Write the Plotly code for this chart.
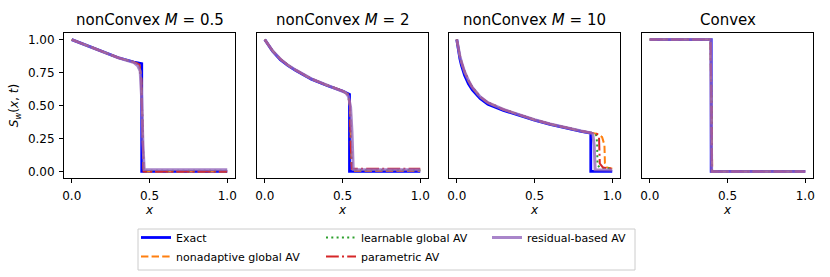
import plotly.graph_objects as go

W, H = 830, 277

# ---------------- data ----------------
titles = ["nonConvex <i>M</i> = 0.5", "nonConvex <i>M</i> = 2", "nonConvex <i>M</i> = 10", "Convex"]
series_names = ["Exact", "nonadaptive global AV", "learnable global AV", "parametric AV", "residual-based AV"]

# Panel 1: nonConvex M = 0.5
p1_exact_x = [0, 0.1, 0.2, 0.3, 0.4, 0.45, 0.45, 1.0]
p1_exact_y = [1.0, 0.953, 0.91, 0.862, 0.83, 0.818, 0.0, 0.0]
p1_nonad_x = [0, 0.1, 0.2, 0.3, 0.4, 0.435, 0.447, 0.455, 0.462, 1.0]
p1_nonad_y = [1.0, 0.953, 0.91, 0.862, 0.828, 0.81, 0.7, 0.3, 0.0, 0.0]
p1_learn_x = [0, 0.1, 0.2, 0.3, 0.4, 0.435, 0.447, 0.455, 0.462, 1.0]
p1_learn_y = [1.0, 0.953, 0.91, 0.862, 0.828, 0.81, 0.7, 0.3, 0.005, 0.005]
p1_param_x = [0, 0.1, 0.2, 0.3, 0.4, 0.435, 0.447, 0.455, 0.462, 1.0]
p1_param_y = [1.0, 0.953, 0.91, 0.862, 0.828, 0.81, 0.7, 0.3, 0.0, 0.0]
p1_resid_x = [0, 0.1, 0.2, 0.3, 0.4, 0.425, 0.44, 0.45, 0.458, 0.466, 1.0]
p1_resid_y = [1.0, 0.953, 0.91, 0.862, 0.826, 0.80, 0.76, 0.55, 0.2, 0.014, 0.012]

# Panel 2: nonConvex M = 2
p2_exact_x = [0, 0.05, 0.1, 0.15, 0.2, 0.3, 0.4, 0.5, 0.545, 0.545, 1.0]
p2_exact_y = [1.0, 0.912, 0.848, 0.802, 0.765, 0.70, 0.652, 0.61, 0.585, 0.0, 0.0]
p2_nonad_x = [0, 0.05, 0.1, 0.15, 0.2, 0.3, 0.4, 0.5, 0.535, 0.548, 0.555, 0.562, 1.0]
p2_nonad_y = [1.0, 0.915, 0.852, 0.805, 0.768, 0.702, 0.654, 0.611, 0.585, 0.5, 0.2, 0.005, 0.005]
p2_learn_x = [0, 0.05, 0.1, 0.15, 0.2, 0.3, 0.4, 0.5, 0.535, 0.548, 0.555, 0.562, 1.0]
p2_learn_y = [1.0, 0.915, 0.852, 0.805, 0.768, 0.702, 0.654, 0.611, 0.585, 0.5, 0.2, 0.01, 0.01]
p2_param_x = [0, 0.05, 0.1, 0.15, 0.2, 0.3, 0.4, 0.5, 0.535, 0.548, 0.553, 0.56, 1.0]
p2_param_y = [1.0, 0.915, 0.852, 0.805, 0.768, 0.702, 0.654, 0.611, 0.585, 0.52, 0.2, 0.02, 0.02]
p2_resid_x = [0, 0.05, 0.1, 0.15, 0.2, 0.3, 0.4, 0.5, 0.52, 0.538, 0.552, 0.561, 0.569, 1.0]
p2_resid_y = [1.0, 0.915, 0.852, 0.805, 0.768, 0.702, 0.654, 0.611, 0.598, 0.57, 0.49, 0.3, 0.015, 0.012]

# Panel 3: nonConvex M = 10
p3_exact_x = [0, 0.01, 0.02, 0.03, 0.05, 0.075, 0.1, 0.15, 0.2, 0.3, 0.4, 0.5, 0.6, 0.7, 0.8, 0.862, 0.862, 1.0]
p3_exact_y = [1.0, 0.915, 0.855, 0.805, 0.73, 0.665, 0.618, 0.553, 0.51, 0.463, 0.424, 0.389, 0.357, 0.329, 0.304, 0.29, 0.0, 0.0]
p3_nonad_x = [0, 0.01, 0.02, 0.03, 0.05, 0.075, 0.1, 0.15, 0.2, 0.3, 0.4, 0.5, 0.6, 0.7, 0.8, 0.87, 0.905, 0.935, 0.95, 0.953, 0.965, 1.0]
p3_nonad_y = [1.0, 0.93, 0.875, 0.83, 0.757, 0.69, 0.637, 0.567, 0.522, 0.47, 0.428, 0.392, 0.36, 0.331, 0.306, 0.292, 0.285, 0.26, 0.2, 0.06, 0.03, 0.02]
p3_learn_x = [0, 0.01, 0.02, 0.03, 0.05, 0.075, 0.1, 0.15, 0.2, 0.3, 0.4, 0.5, 0.6, 0.7, 0.8, 0.87, 0.895, 0.903, 0.905, 0.92, 1.0]
p3_learn_y = [1.0, 0.93, 0.875, 0.83, 0.757, 0.69, 0.637, 0.567, 0.522, 0.47, 0.428, 0.392, 0.36, 0.331, 0.306, 0.292, 0.285, 0.22, 0.05, 0.03, 0.02]
p3_param_x = [0, 0.01, 0.02, 0.03, 0.05, 0.075, 0.1, 0.15, 0.2, 0.3, 0.4, 0.5, 0.6, 0.7, 0.8, 0.87, 0.9, 0.915, 0.92, 0.94, 1.0]
p3_param_y = [1.0, 0.93, 0.875, 0.83, 0.757, 0.69, 0.637, 0.567, 0.522, 0.47, 0.428, 0.392, 0.36, 0.331, 0.306, 0.292, 0.285, 0.265, 0.06, 0.03, 0.02]
p3_resid_x = [0, 0.01, 0.02, 0.03, 0.05, 0.075, 0.1, 0.15, 0.2, 0.3, 0.4, 0.5, 0.6, 0.7, 0.8, 0.856, 0.875, 0.884, 0.89, 1.0]
p3_resid_y = [1.0, 0.93, 0.875, 0.83, 0.757, 0.69, 0.637, 0.567, 0.522, 0.47, 0.428, 0.392, 0.36, 0.331, 0.306, 0.293, 0.285, 0.2, 0.012, 0.01]

# Panel 4: Convex
p4_exact_x = [0, 0.395, 0.395, 1.0]
p4_exact_y = [1.0, 1.0, 0.0, 0.0]
p4_nonad_x = [0, 0.39, 0.402, 1.0]
p4_nonad_y = [1.0, 1.0, 0.0, 0.0]
p4_learn_x = [0, 0.392, 0.4, 1.0]
p4_learn_y = [1.0, 1.0, 0.0, 0.0]
p4_param_x = [0, 0.392, 0.4, 1.0]
p4_param_y = [1.0, 1.0, 0.0, 0.0]
p4_resid_x = [0, 0.392, 0.398, 1.0]
p4_resid_y = [1.0, 1.0, 0.0, 0.0]

x_tick_vals = [0.0, 0.5, 1.0]
x_tick_text = ["0.0", "0.5", "1.0"]
y_tick_vals = [0.0, 0.25, 0.5, 0.75, 1.0]
y_tick_text = ["0.00", "0.25", "0.50", "0.75", "1.00"]

panels = [
    [(p1_exact_x, p1_exact_y), (p1_nonad_x, p1_nonad_y), (p1_learn_x, p1_learn_y), (p1_param_x, p1_param_y), (p1_resid_x, p1_resid_y)],
    [(p2_exact_x, p2_exact_y), (p2_nonad_x, p2_nonad_y), (p2_learn_x, p2_learn_y), (p2_param_x, p2_param_y), (p2_resid_x, p2_resid_y)],
    [(p3_exact_x, p3_exact_y), (p3_nonad_x, p3_nonad_y), (p3_learn_x, p3_learn_y), (p3_param_x, p3_param_y), (p3_resid_x, p3_resid_y)],
    [(p4_exact_x, p4_exact_y), (p4_nonad_x, p4_nonad_y), (p4_learn_x, p4_learn_y), (p4_param_x, p4_param_y), (p4_resid_x, p4_resid_y)],
]

# ---------------- styles ----------------
styles = [
    dict(color="#0000ff", width=2.8, dash="solid", opacity=1.0),
    dict(color="#ff7f0e", width=2.0, dash="7.4px,3.2px", opacity=1.0),
    dict(color="#2ca02c", width=2.0, dash="2px,3.3px", opacity=1.0),
    dict(color="#d62728", width=2.0, dash="12.8px,3.2px,2px,3.2px", opacity=1.0),
    dict(color="#9467bd", width=3.0, dash="solid", opacity=0.8),
]
legend_of = ["legend", "legend", "legend2", "legend2", "legend3"]

FONT = "DejaVu Sans"
fig = go.Figure()

# panel placement (pixels)
px_left = [64, 257, 449, 642]
px_w = 171
py_top, py_bot = 33, 178

for i, series in enumerate(panels):
    ax = "" if i == 0 else str(i + 1)
    for j, (xs, ys) in enumerate(series):
        st = styles[j]
        fig.add_trace(go.Scatter(
            x=xs, y=ys, mode="lines", name=series_names[j],
            xaxis="x" + ax, yaxis="y" + ax,
            line=dict(color=st["color"], width=st["width"], dash=st["dash"]),
            opacity=st["opacity"],
            legendgroup=series_names[j], legend=legend_of[j],
            showlegend=(i == 0),
        ))
    dom_x = [px_left[i] / W, (px_left[i] + px_w) / W]
    dom_y = [(H - py_bot) / H, (H - py_top) / H]
    common = dict(showline=True, mirror=True, linecolor="black", linewidth=1,
                  showgrid=False, zeroline=False, automargin=False,
                  tickfont=dict(family=FONT, size=12, color="black"))
    fig.layout["xaxis" + ax] = dict(
        domain=dom_x, range=[-0.05, 1.05], anchor="y" + ax,
        tickmode="array", tickvals=x_tick_vals, ticktext=x_tick_text,
        ticks="outside", ticklen=4, tickcolor="black", ticklabelstandoff=3,
        title=dict(text="<i>x</i>", font=dict(family=FONT, size=12, color="black"), standoff=1),
        **common)
    yd = dict(domain=dom_y, range=[-0.05, 1.05], anchor="x" + ax, **common)
    if i == 0:
        yd.update(tickmode="array", tickvals=y_tick_vals, ticktext=y_tick_text,
                  ticks="outside", ticklen=4, tickcolor="black", ticklabelstandoff=2,
                  title=dict(text="<i>S</i><sub><i>w</i></sub>(<i>x</i>, <i>t</i>)",
                             font=dict(family=FONT, size=12, color="black"), standoff=6))
    else:
        yd.update(showticklabels=False, ticks="")
    fig.layout["yaxis" + ax] = yd
    fig.add_annotation(text=titles[i], xref="x" + ax + " domain", yref="paper",
                       x=0.5, y=(H - 20) / H, xanchor="center", yanchor="middle",
                       showarrow=False, font=dict(family=FONT, size=15, color="black"))

# legend frame
fig.add_shape(type="rect", xref="paper", yref="paper",
              x0=138 / W, x1=635 / W, y0=(H - 270) / H, y1=(H - 229) / H,
              line=dict(color="#cccccc", width=1), fillcolor="white", layer="below")

leg_common = dict(orientation="v", yanchor="top", xanchor="left", bgcolor="rgba(0,0,0,0)",
                  borderwidth=0, font=dict(family=FONT, size=11, color="black"),
                  tracegroupgap=0, y=(H - 223) / H)
fig.update_layout(
    width=W, height=H,
    margin=dict(l=0, r=0, t=0, b=0),
    paper_bgcolor="white", plot_bgcolor="white",
    font=dict(family=FONT, color="black"),
    legend=dict(x=(176 - 40) / W, **leg_common),
    legend2=dict(x=(361 - 40) / W, **leg_common),
    legend3=dict(x=(527 - 40) / W, **leg_common),
)

fig.write_html("out.html",
               config={"displayModeBar": False},
               post_script="document.body.style.margin='0';document.body.style.padding='0';")
